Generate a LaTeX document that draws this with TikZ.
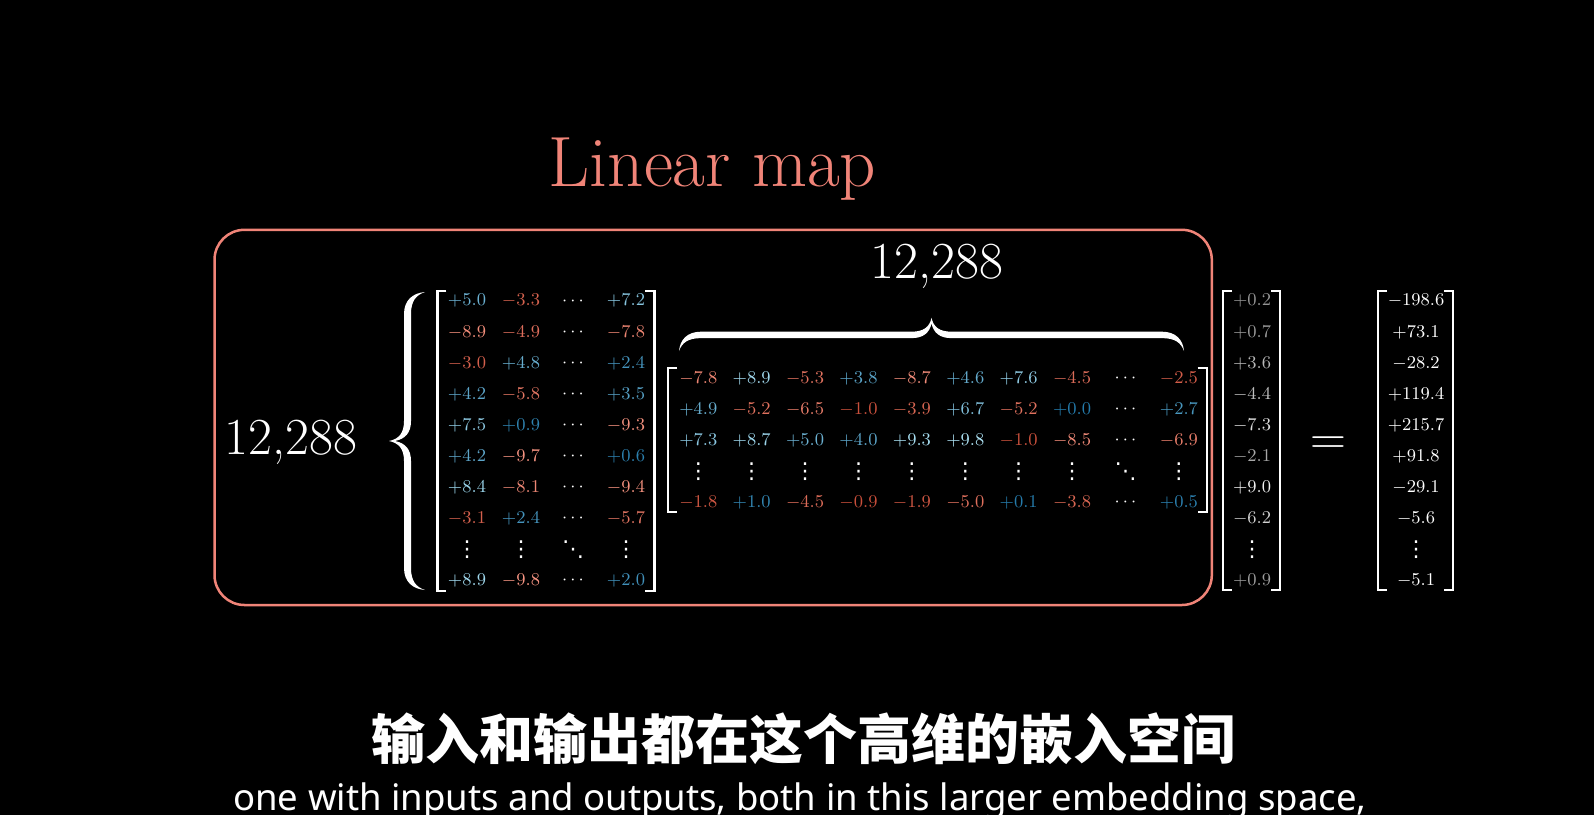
\documentclass[tikz,border=0pt]{standalone}
\usepackage{fontspec}
\newfontfamily\cjkfont{Noto Sans CJK SC}
\newfontfamily\subfont{Noto Sans}
\newfontfamily\dotfont{DejaVu Sans}
\definecolor{salmon}{RGB}{240,132,120}
\definecolor{bluehi}{RGB}{176,228,245}
\definecolor{bluelo}{RGB}{36,122,170}
\definecolor{redhi}{RGB}{248,150,132}
\definecolor{redlo}{RGB}{196,72,52}
\newcommand\posv[1]{\pgfmathtruncatemacro\pct{#1*10}\textcolor{bluehi!\pct!bluelo}{$+#1$}}
\newcommand\negv[1]{\pgfmathtruncatemacro\pct{#1*10}\textcolor{redhi!\pct!redlo}{$-#1$}}
\newcommand\grp[1]{\pgfmathtruncatemacro\pct{58+4*#1}\textcolor{white!\pct!black}{$+#1$}}
\newcommand\grn[1]{\pgfmathtruncatemacro\pct{58+4*#1}\textcolor{white!\pct!black}{$-#1$}}
\newcommand\hdts{\textcolor{white}{$\cdots$}}
\newcommand\vdts{\textcolor{white}{\dotfont\fontsize{11}{12}\selectfont ⋮}}
\newcommand\ddts{\textcolor{white}{\dotfont\fontsize{11}{12}\selectfont ⋱}}
\newcommand\Lrow[5]{%
\node[num] (L-#1-1) at (467,{301+31.05*(#1-1)}) {#2};
\node[num] (L-#1-2) at (521,{301+31.05*(#1-1)}) {#3};
\node[num] (L-#1-3) at (573,{301+31.05*(#1-1)}) {#4};
\node[num] (L-#1-4) at (626,{301+31.05*(#1-1)}) {#5};}
\newcommand\brkts[4]{%
\draw[brk] (#1+9,#3) -- (#1,#3) -- (#1,#4) -- (#1+9,#4);
\draw[brk] (#2-9,#3) -- (#2,#3) -- (#2,#4) -- (#2-9,#4);}
\newcommand\bracefill[1]{%
\fill[white] (-#1,0) .. controls (-#1+1,-12) and (-#1+8,-21) .. (-#1+22,-21) -- (-20,-21) .. controls (-8,-21) and (-2,-26) .. (0,-36) .. controls (2,-26) and (8,-21) .. (20,-21) -- (#1-22,-21) .. controls (#1-8,-21) and (#1-1,-12) .. (#1,0) .. controls (#1-3,-9) and (#1-9,-14) .. (#1-22,-14) -- (20,-14) .. controls (8,-14) and (2,-20) .. (0,-30) .. controls (-2,-20) and (-8,-14) .. (-20,-14) -- (-#1+22,-14) .. controls (-#1+9,-14) and (-#1+3,-9) .. (-#1,0) -- cycle;}
\begin{document}
\begin{tikzpicture}[x=0.5pt,y=-0.5pt,
  num/.style={font=\fontsize{8.75}{10}\selectfont, inner sep=0pt, text=white},
  brk/.style={white, line width=1.2pt},
  big/.style={font=\fontsize{26}{30}\selectfont, inner sep=0pt, text=white, anchor=base}]
\useasboundingbox (0,0) rectangle (1594,815);
\fill[black] (0,0) rectangle (1594,815);

\node[text=salmon, font=\fontsize{35.6}{40}\selectfont, anchor=base, inner sep=0pt] (title) at (712.6,186) {Linear map};
\draw[salmon, line width=1.25pt, rounded corners=15pt] (214.5,229.8) rectangle (1211.8,605);

\node[big] (rowdim) at (290.7,454) {12,288};
\node[big] (coldim) at (937,278.5) {12,288};

\begin{scope}[shift={(425,441)}, rotate=90]
\bracefill{149}
\end{scope}
\begin{scope}[shift={(931.5,351)}, yscale=0.92]
\bracefill{252.5}
\end{scope}

% left matrix
\Lrow{1}{\posv{5.0}}{\negv{3.3}}{\hdts}{\posv{7.2}}
\Lrow{2}{\negv{8.9}}{\negv{4.9}}{\hdts}{\negv{7.8}}
\Lrow{3}{\negv{3.0}}{\posv{4.8}}{\hdts}{\posv{2.4}}
\Lrow{4}{\posv{4.2}}{\negv{5.8}}{\hdts}{\posv{3.5}}
\Lrow{5}{\posv{7.5}}{\posv{0.9}}{\hdts}{\negv{9.3}}
\Lrow{6}{\posv{4.2}}{\negv{9.7}}{\hdts}{\posv{0.6}}
\Lrow{7}{\posv{8.4}}{\negv{8.1}}{\hdts}{\negv{9.4}}
\Lrow{8}{\negv{3.1}}{\posv{2.4}}{\hdts}{\negv{5.7}}
\Lrow{9}{\vdts}{\vdts}{\ddts}{\vdts}
\Lrow{10}{\posv{8.9}}{\negv{9.8}}{\hdts}{\posv{2.0}}
\brkts{437.3}{654.3}{291}{590.7}

% wide matrix
\foreach \e [count=\c] in {\negv{7.8},\posv{8.9},\negv{5.3},\posv{3.8},\negv{8.7},\posv{4.6},\posv{7.6},\negv{4.5},\hdts,\negv{2.5}}
  \node[num] (W-1-\c) at ({698.3+53.4*(\c-1)},378.3) {\e};
\foreach \e [count=\c] in {\posv{4.9},\negv{5.2},\negv{6.5},\negv{1.0},\negv{3.9},\posv{6.7},\negv{5.2},\posv{0.0},\hdts,\posv{2.7}}
  \node[num] (W-2-\c) at ({698.3+53.4*(\c-1)},409.4) {\e};
\foreach \e [count=\c] in {\posv{7.3},\posv{8.7},\posv{5.0},\posv{4.0},\posv{9.3},\posv{9.8},\negv{1.0},\negv{8.5},\hdts,\negv{6.9}}
  \node[num] (W-3-\c) at ({698.3+53.4*(\c-1)},440.5) {\e};
\foreach \e [count=\c] in {\vdts,\vdts,\vdts,\vdts,\vdts,\vdts,\vdts,\vdts,\ddts,\vdts}
  \node[num] (W-4-\c) at ({698.3+53.4*(\c-1)},471.6) {\e};
\foreach \e [count=\c] in {\negv{1.8},\posv{1.0},\negv{4.5},\negv{0.9},\negv{1.9},\negv{5.0},\posv{0.1},\negv{3.8},\hdts,\posv{0.5}}
  \node[num] (W-5-\c) at ({698.3+53.4*(\c-1)},502.7) {\e};
\brkts{668}{1206.7}{367.7}{511.7}

% input vector
\foreach \e [count=\r] in {\grp{0.2},\grp{0.7},\grp{3.6},\grn{4.4},\grn{7.3},\grn{2.1},\grp{9.0},\grn{6.2},\vdts,\grp{0.9}}
  \node[num] (V-\r) at (1252,{301+31.05*(\r-1)}) {\e};
\brkts{1223}{1280}{291}{590}

\node[font=\fontsize{25}{28}\selectfont, text=white, inner sep=0pt] (eq) at (1328,446) {$=$};

% output vector
\foreach \e [count=\r] in {$-198.6$,$+73.1$,$-28.2$,$+119.4$,$+215.7$,$+91.8$,$-29.1$,$-5.6$,\vdts,$-5.1$}
  \node[num] (R-\r) at (1416,{301+31.05*(\r-1)}) {\e};
\brkts{1378}{1453}{291}{590}

\node[font=\cjkfont\bfseries\fontsize{27}{30}\selectfont, text=white, inner sep=0pt] (zh) at (803,739) {输入和输出都在这个高维的嵌入空间};
\node[font=\subfont\fontsize{18.25}{21}\selectfont, text=white, inner sep=0pt, anchor=base] (en) at (800,810) {one with inputs and outputs, both in this larger embedding space,};
\end{tikzpicture}
\end{document}
